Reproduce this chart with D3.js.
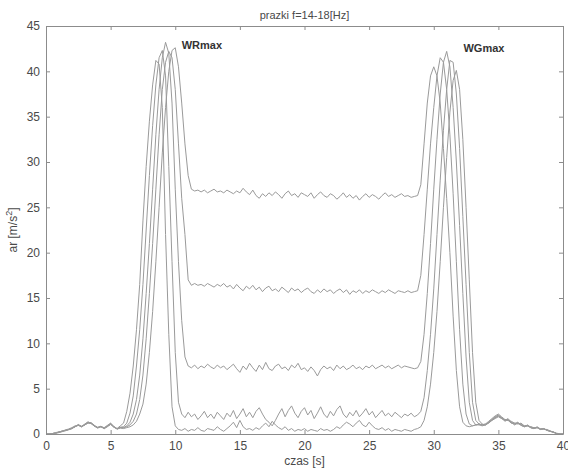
<!DOCTYPE html>
<html>
<head>
<meta charset="utf-8">
<script src="https://cdn.jsdelivr.net/npm/d3@7/dist/d3.min.js"></script>
<style>
  html, body { margin: 0; padding: 0; background: #fff; }
  svg { display: block; }
  text { font-family: "Liberation Sans", Arial, sans-serif; }
</style>
</head>
<body>
<svg id="chart" width="568" height="468"></svg>
<script>
// Sampling grid: every 0.25 s from 0 to 40 s
const time = d3.range(0, 161).map(i => i * 0.25);

// Accelerations ar [m/s^2], one row = 2 s (8 samples)
const run1 = [
  0, 0, 0.05, 0.1, 0.2, 0.3, 0.4, 0.5,
  0.6, 0.85, 1.0, 0.8, 1.05, 1.3, 1.2, 0.9,
  0.7, 0.85, 0.65, 0.9, 1.15, 0.8, 0.6, 0.9,
  1.2, 2.5, 4.5, 7.5, 11.5, 16.5, 23.5, 29.5,
  34.5, 38.5, 41.2, 40.8, 36, 22, 11, 3,
  0.9, 0.5, 0.4, 0.6, 0.3, 0.5, 0.4, 0.7,
  0.4, 0.3, 0.6, 0.5, 0.4, 0.8, 0.5, 0.3,
  0.6, 0.9, 1.3, 0.7, 1.5, 0.8, 0.5, 0.6,
  0.4, 0.7, 0.5, 0.9, 1.2, 0.8, 1.4, 1.0,
  0.7, 0.5, 0.8, 0.4, 0.6, 0.3, 0.5, 0.4,
  0.6, 0.3, 0.5, 0.4, 0.3, 0.6, 0.4, 0.5,
  0.3, 0.5, 0.8, 0.6, 1.0, 1.3, 1.1, 0.8,
  1.2, 1.5, 1.0, 0.8, 1.3, 0.9, 0.6, 0.5,
  0.7, 0.4, 0.6, 0.3, 0.5, 0.4, 0.3, 0.5,
  0.4, 0.3, 0.5, 0.6, 0.8, 1.5, 3, 5.5,
  9, 13.5, 19, 25, 30.5, 35.5, 39, 40.1,
  38, 32.5, 25, 17, 9, 3.5, 1.5, 1.1,
  1.0, 1.3, 1.6, 1.9, 2.1, 1.8, 1.5, 1.7,
  1.3, 1.1, 1.3, 1.0, 0.8, 1.0, 0.7, 0.6,
  0.8, 0.5, 0.6, 0.4, 0.3, 0.2, 0.05, 0,
  0
];
const run2 = [
  0, 0, 0.05, 0.15, 0.25, 0.3, 0.45, 0.55,
  0.7, 0.9, 0.95, 0.85, 1.1, 1.35, 1.15, 0.85,
  0.75, 0.8, 0.7, 0.95, 1.2, 0.85, 0.55, 0.75,
  0.8, 1.2, 2.3, 4.2, 7.5, 11.5, 16.5, 22.5,
  28.5, 34, 38.5, 41.5, 42.3, 39.5, 29.5, 19,
  9, 3.5, 2.2, 1.8, 2.4, 1.9, 2.2, 1.6,
  2.0, 2.5, 1.8, 2.2, 1.7, 2.4, 2.0, 1.6,
  2.3, 1.9, 2.6, 1.7, 2.2, 2.8, 1.9, 2.4,
  1.8, 2.5, 2.9, 2.2, 1.6, 1.3, 0.9, 1.5,
  2.2, 2.8, 1.9, 2.6, 3.1, 2.3, 1.8, 2.5,
  2.9, 2.1, 2.6, 1.7, 2.3, 3.0, 2.2, 1.8,
  2.5, 2.0, 2.7, 3.1, 2.2, 1.8, 2.4, 2.0,
  2.6, 1.9, 2.3, 2.8, 2.1, 2.5, 1.8, 2.2,
  2.6, 2.0, 2.3, 1.9, 2.4, 2.1, 1.8, 2.2,
  2.0, 2.3, 1.9, 2.1, 2.5, 4, 7, 11,
  16, 22, 28, 33.5, 38, 41.2, 41, 37.5,
  31.5, 24, 16.5, 9, 3.5, 1.5, 1.1, 1.0,
  1.1, 1.4, 1.7, 2.0, 2.2, 1.9, 1.6, 1.5,
  1.4, 1.2, 1.1, 1.2, 0.9, 0.9, 0.8, 0.7,
  0.7, 0.6, 0.5, 0.5, 0.35, 0.2, 0.1, 0,
  0
];
const run3 = [
  0, 0, 0.05, 0.1, 0.2, 0.35, 0.4, 0.5,
  0.65, 0.8, 1.05, 0.85, 1.0, 1.25, 1.25, 0.95,
  0.7, 0.8, 0.6, 0.85, 1.1, 0.75, 0.6, 0.7,
  0.7, 0.9, 1.3, 2.2, 3.8, 6.5, 10.5, 15.5,
  21, 27, 33, 38, 41.5, 43.2, 42, 36.5,
  27, 19, 12.5, 8.5, 7.5, 7.3, 7.6, 7.2,
  7.5, 7.3, 7.7, 7.4, 7.2, 7.6, 7.3, 7.5,
  7.1, 7.4, 7.7, 7.2, 6.8, 7.5, 7.1, 7.8,
  7.3, 6.9, 7.6, 7.1, 7.9, 7.2, 7.0, 7.5,
  7.7, 7.2, 7.4, 7.0, 7.6, 7.3, 7.8, 7.1,
  7.3, 6.9, 7.4, 7.0, 6.4, 7.1, 7.5, 7.2,
  7.4, 7.0, 7.6, 7.2, 7.5, 7.1, 7.3, 7.6,
  7.2, 7.4, 7.1, 7.5, 7.3, 7.6, 7.2, 7.4,
  7.6, 7.3, 7.5, 7.2, 7.4, 7.6, 7.3, 7.5,
  7.4, 7.3, 7.2, 7.3, 8, 11, 15.5, 21,
  27, 32.5, 37.5, 41, 42.2, 40.5, 36, 30,
  23, 15.5, 8.5, 3.5, 1.5, 1.0, 1.1, 1.0,
  1.1, 1.2, 1.6, 1.8, 2.0, 1.7, 1.6, 1.5,
  1.2, 1.2, 1.2, 1.1, 0.9, 0.9, 0.8, 0.65,
  0.7, 0.55, 0.55, 0.45, 0.3, 0.25, 0.05, 0,
  0
];
const run4 = [
  0, 0, 0.05, 0.1, 0.2, 0.3, 0.35, 0.5,
  0.6, 0.8, 1.0, 0.8, 1.0, 1.25, 1.15, 0.9,
  0.7, 0.85, 0.6, 0.85, 1.1, 0.8, 0.55, 0.7,
  0.7, 0.8, 1.0, 1.4, 2.2, 3.8, 6.5, 10.5,
  15.5, 21, 27, 33, 38, 41, 42.2, 41.5,
  38, 32, 26, 22, 17, 16.4, 16.6, 16.4,
  16.5, 16.3, 16.6, 16.4, 16.2, 16.5, 16.3, 16.6,
  16.2, 16.4, 16.0, 16.5, 16.1, 15.8, 16.3, 16.0,
  16.4, 15.9, 16.2, 15.7, 16.1, 16.3, 15.8, 16.0,
  15.7, 16.2, 15.9, 15.6, 16.1, 15.8, 16.0, 15.6,
  15.9, 16.1, 15.7, 15.5, 15.9, 15.6, 16.0, 15.7,
  15.9, 15.5, 15.8, 16.0, 15.6, 15.9, 15.4, 15.8,
  15.6, 15.9, 15.5, 15.8, 15.6, 15.9, 15.7, 15.5,
  15.8, 15.6, 15.9, 15.7, 15.5, 15.8, 15.7, 15.6,
  15.8, 15.6, 15.7, 15.8, 17.5, 22, 27, 32,
  36, 39.5, 41.5, 41, 38, 33, 26.5, 19,
  11.5, 5.5, 2.2, 1.1, 0.9, 1.0, 1.1, 1.0,
  1.0, 1.3, 1.5, 1.8, 2.0, 1.8, 1.4, 1.6,
  1.3, 1.0, 1.2, 0.95, 0.8, 0.95, 0.7, 0.6,
  0.75, 0.5, 0.6, 0.4, 0.3, 0.2, 0.05, 0,
  0
];
const run5 = [
  0, 0, 0.05, 0.1, 0.15, 0.25, 0.4, 0.45,
  0.6, 0.8, 0.95, 0.8, 1.0, 1.2, 1.15, 0.85,
  0.65, 0.8, 0.6, 0.8, 1.05, 0.75, 0.55, 0.65,
  0.6, 0.7, 0.8, 1.0, 1.4, 2.2, 3.3, 5.5,
  9, 13.5, 19, 25, 31, 36, 40, 42.3,
  42.6, 40.5, 36.5, 32, 28.5, 27.0, 26.8, 26.9,
  26.7, 26.9, 26.6, 26.8, 27.0, 26.7, 26.8, 26.6,
  26.9, 26.7, 26.5, 26.8, 26.6, 27.1, 26.7, 26.4,
  26.9, 26.3, 26.0, 26.5, 26.2, 26.6, 26.3, 26.7,
  26.4, 26.0, 26.5, 26.8, 26.3, 26.5, 26.1, 26.6,
  26.4, 26.2, 26.6, 26.0, 26.4, 26.7, 26.3, 26.1,
  26.5, 26.3, 25.9, 26.2, 26.6, 26.1, 26.4, 26.0,
  26.3, 25.8, 26.2, 26.5, 26.1, 26.4, 26.2, 25.9,
  26.3, 26.6, 26.2, 26.4, 26.1, 26.3, 26.5, 26.2,
  26.3, 26.1, 26.2, 26.3, 27.5, 32, 36.5, 39.5,
  40.5, 39.5, 36.5, 31.5, 26, 20, 13, 7,
  3, 1.3, 0.9, 0.8, 0.9, 1.0, 1.0, 0.9,
  1.0, 1.2, 1.5, 1.7, 1.9, 1.7, 1.5, 1.6,
  1.2, 1.1, 1.2, 1.0, 0.8, 0.9, 0.7, 0.6,
  0.7, 0.5, 0.6, 0.45, 0.3, 0.2, 0.05, 0,
  0
];
const runs = [run1, run2, run3, run4, run5];

const xTicks = [0, 5, 10, 15, 20, 25, 30, 35, 40];
const yTicks = [0, 5, 10, 15, 20, 25, 30, 35, 40, 45];
const peakLabels = [
  { text: "WRmax", t: 10.5, v: 42.5 },
  { text: "WGmax", t: 32.3, v: 42.1 }
];
const titleText = "prazki f=14-18[Hz]";
const xLabel = "czas [s]";

(function draw() {
  const svg = d3.select("#chart");
  const W = 568, H = 468;
  const margin = { left: 46, right: 5, top: 26, bottom: 34 };
  const x = d3.scaleLinear().domain([0, 40]).range([margin.left, W - margin.right]);
  const y = d3.scaleLinear().domain([0, 45]).range([H - margin.bottom, margin.top]);

  const axisColor = "#8c8c8c";
  const textColor = "#4a4a4a";

  // measured runs
  const line = d3.line().x((d, i) => x(time[i])).y(d => y(d));
  svg.append("g").selectAll("path").data(runs).join("path")
    .attr("d", line)
    .attr("fill", "none")
    .attr("stroke", "#9a9a9a")
    .attr("stroke-width", 1)
    .attr("stroke-linejoin", "round");

  // axes box with inward ticks on all four sides
  function styleAxis(g) {
    g.selectAll(".domain").attr("stroke", axisColor);
    g.selectAll(".tick line").attr("stroke", axisColor);
    g.selectAll(".tick text").attr("fill", textColor)
      .style("font-size", "12px").style("font-family", "Liberation Sans, Arial, sans-serif");
  }
  const axBottom = svg.append("g").attr("transform", `translate(0,${y(0)})`)
    .call(d3.axisBottom(x).tickValues(xTicks).tickSizeInner(-4).tickSizeOuter(0).tickPadding(7));
  styleAxis(axBottom);
  const axTop = svg.append("g").attr("transform", `translate(0,${y(45)})`)
    .call(d3.axisTop(x).tickValues(xTicks).tickSizeInner(-4).tickSizeOuter(0).tickFormat(""));
  styleAxis(axTop);
  const axLeft = svg.append("g").attr("transform", `translate(${x(0)},0)`)
    .call(d3.axisLeft(y).tickValues(yTicks).tickSizeInner(-4).tickSizeOuter(0).tickPadding(6));
  styleAxis(axLeft);
  const axRight = svg.append("g").attr("transform", `translate(${x(40)},0)`)
    .call(d3.axisRight(y).tickValues(yTicks).tickSizeInner(-4).tickSizeOuter(0).tickFormat(""));
  styleAxis(axRight);

  // title and axis labels
  svg.append("text")
    .attr("x", (x(0) + x(40)) / 2).attr("y", 19)
    .attr("text-anchor", "middle").attr("fill", textColor)
    .style("font-size", "11px").text(titleText);

  svg.append("text")
    .attr("x", (x(0) + x(40)) / 2).attr("y", 465)
    .attr("text-anchor", "middle").attr("fill", textColor)
    .style("font-size", "12px").text(xLabel);

  const yl = svg.append("text")
    .attr("transform", `translate(17,${(y(0) + y(45)) / 2}) rotate(-90)`)
    .attr("text-anchor", "middle").attr("fill", textColor)
    .style("font-size", "12px");
  yl.append("tspan").text("ar [m/s");
  yl.append("tspan").attr("dy", -5).style("font-size", "9px").text("2");
  yl.append("tspan").attr("dy", 5).text("]");

  // peak annotations
  svg.append("g").selectAll("text").data(peakLabels).join("text")
    .attr("x", d => x(d.t)).attr("y", d => y(d.v))
    .attr("fill", "#333")
    .style("font-size", "11px").style("font-weight", "bold")
    .text(d => d.text);
})();
</script>
</body>
</html>
